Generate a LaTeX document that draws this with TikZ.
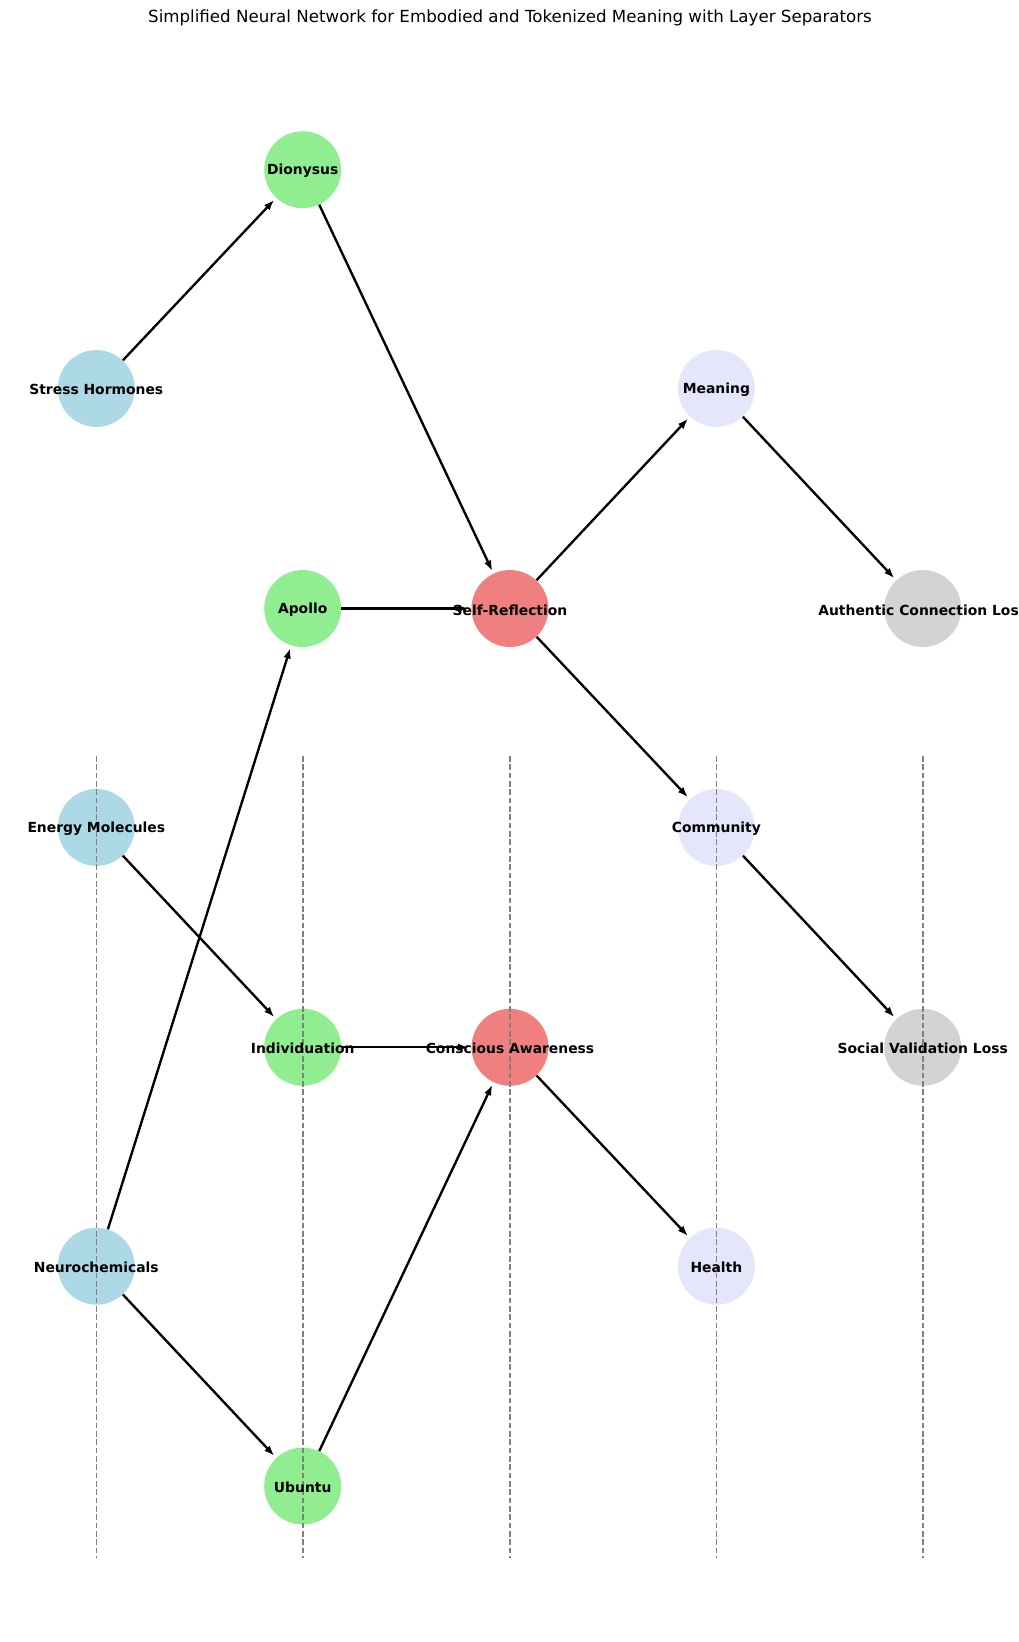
\documentclass[tikz,border=0pt]{standalone}
\usepackage{fontspec}
\setmainfont{DejaVu Sans}
\usetikzlibrary{arrows.meta}
\definecolor{azulneuro}{HTML}{ADD8E6}
\definecolor{verdeneuro}{HTML}{90EE90}
\definecolor{rojoneuro}{HTML}{F08080}
\definecolor{lavanda}{HTML}{E6E6FA}
\definecolor{grisneuro}{HTML}{D3D3D3}
\definecolor{grislinea}{HTML}{808080}

\begin{document}
\begin{tikzpicture}[x=0.72pt, y=-0.72pt,
  neuron/.style={circle, draw=none, minimum size=55.4pt, inner sep=0pt},
  lab/.style={font=\fontsize{10}{12}\selectfont\bfseries, inner sep=0pt, yshift=-1pt},
  sep/.style={draw=grislinea, line width=1.15pt, dash pattern=on 4pt off 2pt},
  edge/.style={-{Latex[length=7.5pt,width=5.5pt]}, line width=1.7pt, shorten >=2pt},
  >=Latex
]
\useasboundingbox (0,0) rectangle (1019,1642);
\clip (0,0) rectangle (1019,1642);
\node[font=\fontsize{12}{14}\selectfont] (title) at (510,18)
  {Simplified Neural Network for Embodied and Tokenized Meaning with Layer Separators};
% input layer
\node[neuron, fill=azulneuro] (stress) at (96.3,388.5) {};
\node[neuron, fill=azulneuro] (energy) at (96.3,827.4) {};
\node[neuron, fill=azulneuro] (neuro)  at (96.3,1266.2) {};
% hidden layer 1
\node[neuron, fill=verdeneuro] (dionysus) at (302.7,169.7) {};
\node[neuron, fill=verdeneuro] (apollo)   at (302.7,608.5) {};
\node[neuron, fill=verdeneuro] (indiv)    at (302.7,1047.3) {};
\node[neuron, fill=verdeneuro] (ubuntu)   at (302.7,1486.1) {};
% hidden layer 2
\node[neuron, fill=rojoneuro] (selfref)   at (510,608.5) {};
\node[neuron, fill=rojoneuro] (conscious) at (510,1047.3) {};
% hidden layer 3
\node[neuron, fill=lavanda] (meaning)   at (716.4,388.5) {};
\node[neuron, fill=lavanda] (community) at (716.4,827.4) {};
\node[neuron, fill=lavanda] (health)    at (716.4,1266.2) {};
% output layer
\node[neuron, fill=grisneuro] (authentic) at (922.7,608.5) {};
\node[neuron, fill=grisneuro] (social)    at (922.7,1047.3) {};
% layer separators
\foreach \xs in {96.3,302.7,510,716.4,922.7}
  \draw[sep] (\xs,756) -- (\xs,1558);
% labels
\node[lab] at (stress)    {Stress Hormones};
\node[lab] at (energy)    {Energy Molecules};
\node[lab] at (neuro)     {Neurochemicals};
\node[lab] at (dionysus)  {Dionysus};
\node[lab] at (apollo)    {Apollo};
\node[lab] at (indiv)     {Individuation};
\node[lab] at (ubuntu)    {Ubuntu};
\node[lab] at (selfref)   {Self-Reflection};
\node[lab] at (conscious) {Conscious Awareness};
\node[lab] at (meaning)   {Meaning};
\node[lab] at (community) {Community};
\node[lab] at (health)    {Health};
\node[lab] at (authentic) {Authentic Connection Loss};
\node[lab] at (social)    {Social Validation Loss};
% connections
\draw[edge] (stress) -- (dionysus);
\draw[edge] (dionysus) -- (selfref);
\draw[edge] (apollo) -- (selfref);
\draw[edge] (selfref) -- (meaning);
\draw[edge] (selfref) -- (community);
\draw[edge] (meaning) -- (authentic);
\draw[edge] (energy) -- (indiv);
\draw[edge] (neuro) -- (apollo);
\draw[edge] (neuro) -- (ubuntu);
\draw[edge] (indiv) -- (conscious);
\draw[edge] (ubuntu) -- (conscious);
\draw[edge] (conscious) -- (health);
\draw[edge] (community) -- (social);
\end{tikzpicture}
\end{document}
